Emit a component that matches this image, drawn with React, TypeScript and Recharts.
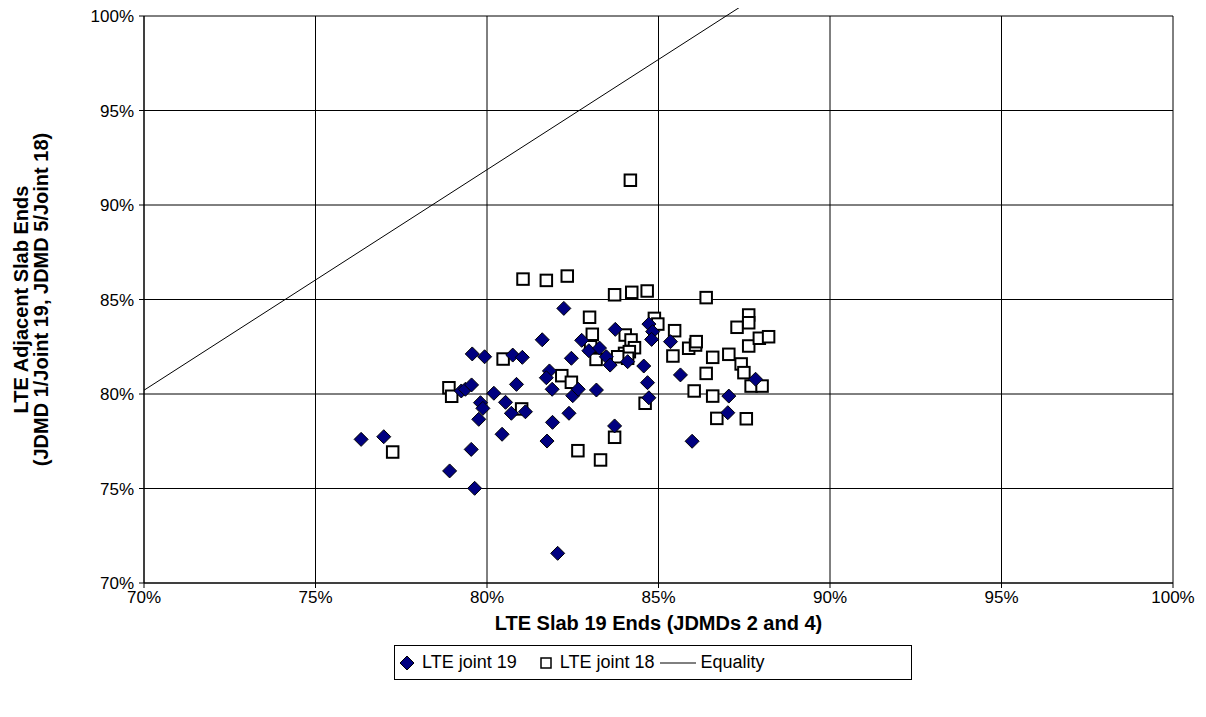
import React from "react";
import { ScatterChart, Scatter, XAxis, YAxis, CartesianGrid, ReferenceLine } from "recharts";

const xTicks = [70, 75, 80, 85, 90, 95, 100];
const yTicks = [70, 75, 80, 85, 90, 95, 100];

const joint19X = [76.33, 76.99, 79.25, 79.37, 79.55, 79.57, 79.93, 79.81, 79.88, 79.76, 79.54, 78.91, 79.64, 82.06, 80.44, 81.75, 81.91, 82.39, 80.2, 80.54, 80.71, 81.12, 80.86, 80.75, 81.03, 81.82, 81.73, 81.9, 82.5, 82.66, 83.19, 82.46, 81.61, 82.24, 83.72, 82.76, 82.97, 83.28, 83.48, 83.59, 83.74, 84.1, 84.72, 84.83, 84.8, 85.35, 84.57, 85.64, 84.68, 84.72, 87.05, 87.02, 85.98, 87.83];
const joint19Y = [77.6, 77.74, 80.16, 80.25, 80.48, 82.12, 81.97, 79.54, 79.24, 78.66, 77.07, 75.93, 75.01, 71.57, 77.87, 77.51, 78.5, 78.98, 80.04, 79.56, 78.98, 79.06, 80.51, 82.06, 81.94, 81.22, 80.86, 80.25, 79.91, 80.25, 80.21, 81.89, 82.87, 84.53, 78.31, 82.84, 82.29, 82.43, 81.97, 81.53, 83.42, 81.71, 83.7, 83.3, 82.89, 82.77, 81.48, 81.01, 80.6, 79.8, 79.89, 79.01, 77.5, 80.78];

const joint18X = [77.25, 78.89, 78.97, 82.65, 81.01, 80.47, 82.18, 82.46, 81.05, 81.73, 82.34, 84.18, 83.72, 84.22, 84.67, 86.39, 82.99, 83.07, 83.02, 83.18, 84.03, 84.2, 84.3, 84.01, 84.15, 84.1, 83.81, 84.88, 84.98, 85.47, 85.42, 85.88, 86.08, 86.1, 86.39, 86.58, 87.05, 87.29, 84.61, 86.04, 86.58, 86.7, 87.56, 83.72, 83.31, 87.41, 87.49, 87.7, 88.02, 87.63, 87.94, 88.21, 87.63, 87.63];
const joint18Y = [76.93, 80.33, 79.88, 77.0, 79.21, 81.85, 80.97, 80.62, 86.08, 86.01, 86.24, 91.31, 85.25, 85.38, 85.45, 85.1, 84.06, 83.16, 82.5, 81.83, 83.12, 82.86, 82.45, 82.15, 82.24, 81.89, 81.97, 84.0, 83.7, 83.35, 82.01, 82.42, 82.59, 82.77, 81.09, 81.94, 82.1, 83.53, 79.51, 80.16, 79.89, 78.71, 78.69, 77.71, 76.51, 81.59, 81.13, 80.42, 80.42, 82.54, 82.95, 83.03, 84.18, 83.77];

const equalityX = [70, 87.4];
const equalityY = [80.2, 100.5];

const seriesNames = ["LTE joint 19", "LTE joint 18", "Equality"];
const xTitle = "LTE Slab 19 Ends (JDMDs 2 and 4)";
const yTitle1 = "LTE Adjacent Slab Ends";
const yTitle2 = "(JDMD 1/Joint 19, JDMD 5/Joint 18)";

const j19 = joint19X.map((x, i) => ({ x, y: joint19Y[i] }));
const j18 = joint18X.map((x, i) => ({ x, y: joint18Y[i] }));
const eqSegment = equalityX.map((x, i) => ({ x, y: equalityY[i] }));

const FONT = '"Liberation Sans", Arial, sans-serif';

const Diamond = (p: any) => {
  const { cx, cy } = p;
  if (cx == null || cy == null) return null;
  const r = 7;
  return (
    <path
      d={`M${cx},${cy - r}L${cx + r},${cy}L${cx},${cy + r}L${cx - r},${cy}Z`}
      fill="#000080"
      stroke="#000"
      strokeWidth={1}
    />
  );
};

const Square = (p: any) => {
  const { cx, cy } = p;
  if (cx == null || cy == null) return null;
  const s = 5.75;
  return (
    <rect x={cx - s} y={cy - s} width={2 * s} height={2 * s} fill="#fff" stroke="#000" strokeWidth={2} />
  );
};

const XTitle = (props: any) => {
  const vb = props.viewBox || {};
  const cx = vb.x + vb.width / 2;
  return (
    <text x={cx} y={622} textAnchor="middle" fontFamily={FONT} fontWeight="bold" fontSize={20} fill="#000">
      {xTitle}
    </text>
  );
};

const YTitle = () => {
  const cy = 291.5;
  return (
    <g>
      <text x={20} y={cy} transform={`rotate(-90, 20, ${cy})`} textAnchor="middle" fontFamily={FONT} fontWeight="bold" fontSize={20} fill="#000">
        {yTitle1}
      </text>
      <text x={40} y={cy} transform={`rotate(-90, 40, ${cy})`} textAnchor="middle" fontFamily={FONT} fontWeight="bold" fontSize={20} fill="#000">
        {yTitle2}
      </text>
    </g>
  );
};

export default function App() {
  return (
    <div style={{ position: "relative", width: 1190, height: 701, fontFamily: FONT }}>
      <ScatterChart width={1190} height={701} margin={{ top: 8, right: 25, bottom: 0, left: 0 }}>
        <CartesianGrid stroke="#000" strokeWidth={1} fill="#fff" />
        <XAxis
          type="number"
          dataKey="x"
          domain={[70, 100]}
          ticks={xTicks}
          tickFormatter={(v: number) => `${v}%`}
          height={126}
          stroke="#000"
          tickSize={5}
          tickMargin={3}
          tick={{ fill: "#000", fontSize: 17, fontFamily: FONT }}
          interval={0}
          label={<XTitle />}
        />
        <YAxis
          type="number"
          dataKey="y"
          domain={[70, 100]}
          ticks={yTicks}
          tickFormatter={(v: number) => `${v}%`}
          width={136}
          stroke="#000"
          tickSize={5}
          tickMargin={5}
          tick={{ fill: "#000", fontSize: 17, fontFamily: FONT }}
          interval={0}
          label={<YTitle />}
        />
        <ReferenceLine segment={eqSegment} stroke="#000" strokeWidth={1} ifOverflow="visible" />
        <Scatter name={seriesNames[1]} data={j18} shape={Square} isAnimationActive={false} />
        <Scatter name={seriesNames[0]} data={j19} shape={Diamond} isAnimationActive={false} />
      </ScatterChart>
      <div
        style={{
          position: "absolute",
          left: 386,
          top: 637,
          width: 512,
          height: 33,
          border: "1px solid #000",
          background: "#fff",
          display: "flex",
          alignItems: "center",
          justifyContent: "flex-start",
          paddingLeft: 4,
          fontSize: 18,
          color: "#000",
          boxSizing: "content-box",
          whiteSpace: "nowrap",
        }}
      >
        <svg width={16} height={16} style={{ marginRight: 7 }}>
          <path d="M8,1L15,8L8,15L1,8Z" fill="#000080" stroke="#000" strokeWidth={1} />
        </svg>
        <span>{seriesNames[0]}</span>
        <svg width={14} height={14} style={{ marginLeft: 22, marginRight: 7 }}>
          <rect x={2} y={2} width={10} height={10} fill="#fff" stroke="#000" strokeWidth={1.5} />
        </svg>
        <span>{seriesNames[1]}</span>
        <svg width={36} height={14} style={{ marginLeft: 6, marginRight: 4 }}>
          <line x1={0} y1={7} x2={36} y2={7} stroke="#000" strokeWidth={1} />
        </svg>
        <span>{seriesNames[2]}</span>
      </div>
    </div>
  );
}
